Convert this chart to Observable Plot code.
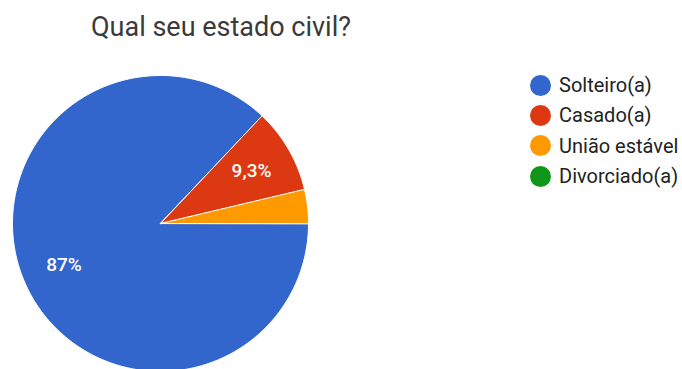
<!DOCTYPE html>
<html>
<head>
<meta charset="utf-8">
<script src="https://cdn.jsdelivr.net/npm/d3@7"></script>
<script src="https://cdn.jsdelivr.net/npm/@observablehq/plot@0.6"></script>
<style>
  html, body { margin: 0; padding: 0; background: #fff; }
  #wrap { position: relative; width: 682px; height: 369px; overflow: hidden; font-family: Roboto, "Noto Sans", sans-serif; }
  #title { position: absolute; left: 91px; top: 11px; font-size: 27px; color: #3a3a3a; white-space: nowrap; }
  #legend { position: absolute; left: 530px; top: 70px; font-size: 20px; color: #222; }
  .item { display: flex; align-items: center; height: 30.3px; white-space: nowrap; }
  .dot { width: 21px; height: 21px; border-radius: 50%; margin-right: 8px; flex: none; }
  #chart { position: absolute; left: 0; top: 0; }
</style>
</head>
<body>
<div id="wrap">
  <div id="chart"></div>
  <div id="title">Qual seu estado civil?</div>
  <div id="legend"></div>
</div>
<script>
const categories = ["Solteiro(a)", "Casado(a)", "União estável", "Divorciado(a)"];
const counts = [47, 5, 2, 0];
const colors = ["#3366cc", "#dc3912", "#ff9900", "#109618"];

const W = 682, H = 369;
const cx = 160, cy = 223, R = 148;

const total = d3.sum(counts);
const polys = [];
const labels = [];
let acc = 0;
categories.forEach((name, i) => {
  const f = counts[i] / total;
  if (f <= 0) { return; }
  const a0 = -acc * 2 * Math.PI;
  const a1 = -(acc + f) * 2 * Math.PI;
  polys.push({name, x: 0, y: 0});
  const n = Math.max(2, Math.ceil(f * 360));
  for (let k = 0; k <= n; k++) {
    const a = a0 + (a1 - a0) * k / n;
    polys.push({name, x: Math.cos(a), y: Math.sin(a)});
  }
  if (f >= 0.05) {
    const am = (a0 + a1) / 2;
    const pct = f * 100;
    const txt = (pct >= 10 ? Math.round(pct).toString() : pct.toFixed(1).replace(".", ",")) + "%";
    labels.push({x: 0.71 * Math.cos(am), y: 0.71 * Math.sin(am), text: txt});
  }
  acc += f;
});

const plot = Plot.plot({
  width: W, height: H,
  margin: 0,
  x: {domain: [-cx / R, (W - cx) / R], axis: null},
  y: {domain: [-(H - cy) / R, cy / R], axis: null},
  color: {domain: categories, range: colors},
  marks: [
    Plot.line(polys, {x: "x", y: "y", z: "name", fill: "name", stroke: "white", strokeWidth: 1, curve: "linear-closed"}),
    Plot.text(labels, {x: "x", y: "y", text: "text", fill: "white", fontSize: 19, fontWeight: 500, fontFamily: "Roboto, sans-serif"})
  ],
  style: {background: "transparent", overflow: "visible"}
});
document.getElementById("chart").appendChild(plot);

const legend = document.getElementById("legend");
categories.forEach((name, i) => {
  const item = document.createElement("div");
  item.className = "item";
  const dot = document.createElement("span");
  dot.className = "dot";
  dot.style.background = colors[i];
  const t = document.createElement("span");
  t.textContent = name;
  item.appendChild(dot);
  item.appendChild(t);
  legend.appendChild(item);
});
</script>
</body>
</html>
